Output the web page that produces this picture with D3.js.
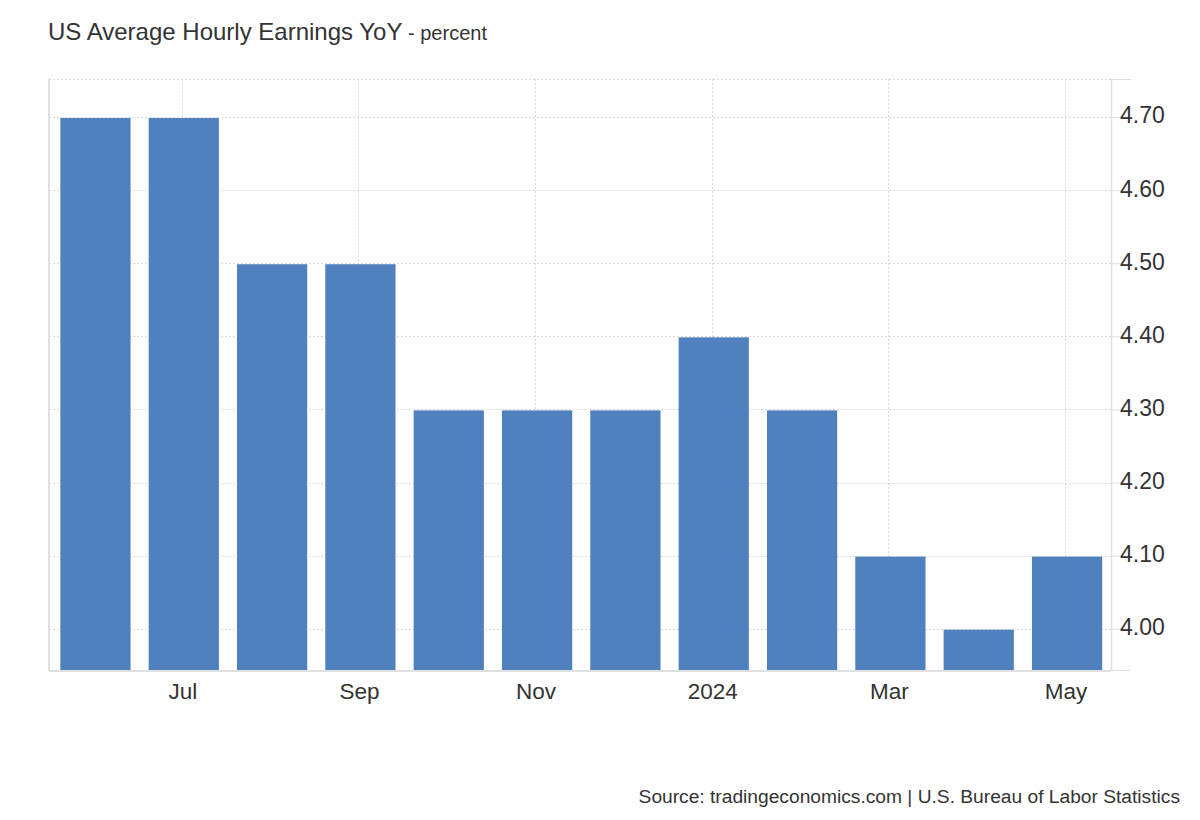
<!DOCTYPE html>
<html>
<head>
<meta charset="utf-8">
<script src="https://cdn.jsdelivr.net/npm/d3@7"></script>
<style>
  html, body { margin: 0; padding: 0; background: #fff; }
  svg { display: block; font-family: "Liberation Sans", Arial, sans-serif; }
</style>
</head>
<body>
<svg id="chart" width="1200" height="820"></svg>
<script>
const months = ["Jun","Jul","Aug","Sep","Oct","Nov","Dec","2024","Feb","Mar","Apr","May"];
const values = [4.7, 4.7, 4.5, 4.5, 4.3, 4.3, 4.3, 4.4, 4.3, 4.1, 4.0, 4.1];
const xTickLabels = ["Jul","Sep","Nov","2024","Mar","May"];
const yTicks = [4.0, 4.1, 4.2, 4.3, 4.4, 4.5, 4.6, 4.7];
const yDomain = [3.9435, 4.752];

(function () {
const svg = d3.select("#chart");
const pL = 49, pR = 1111, pT = 79, pB = 670;

const x = d3.scaleBand().domain(months).range([51.5, 1111]).paddingInner(0.205).paddingOuter(0.1);
const y = d3.scaleLinear().domain(yDomain).range([pB, pT]);

const gridColor = "#d9d9d9";
const axisColor = "#e0e0e0";

// horizontal gridlines
svg.append("g").selectAll("line").data(yTicks).join("line")
  .attr("x1", pL).attr("x2", pR)
  .attr("y1", d => Math.round(y(d)) + 0.5).attr("y2", d => Math.round(y(d)) + 0.5)
  .attr("stroke", gridColor).attr("stroke-width", 1).attr("stroke-dasharray", "2,2");
// top border (dotted)
svg.append("line").attr("x1", pL).attr("x2", pR).attr("y1", pT + 0.5).attr("y2", pT + 0.5)
  .attr("stroke", gridColor).attr("stroke-dasharray", "2,2");

// vertical gridlines
svg.append("g").selectAll("line").data(xTickLabels).join("line")
  .attr("x1", d => Math.round(x(d) + x.bandwidth() / 2) - 1.5)
  .attr("x2", d => Math.round(x(d) + x.bandwidth() / 2) - 1.5)
  .attr("y1", pT).attr("y2", pB)
  .attr("stroke", gridColor).attr("stroke-width", 1).attr("stroke-dasharray", "2,2");

// bars
svg.append("g").selectAll("rect").data(values).join("rect")
  .attr("x", (d, i) => x(months[i]))
  .attr("width", x.bandwidth())
  .attr("y", d => y(d) + 1)
  .attr("height", d => pB - y(d) - 1)
  .attr("fill", "#4e81bd");

// left axis line
svg.append("line").attr("x1", pL).attr("x2", pL).attr("y1", pT).attr("y2", pB + 1)
  .attr("stroke", axisColor).attr("stroke-width", 2);
// bottom axis line
svg.append("line").attr("x1", pL).attr("x2", pR).attr("y1", pB + 1).attr("y2", pB + 1)
  .attr("stroke", axisColor).attr("stroke-width", 2);

// right axis
const yAxis = d3.axisRight(y).tickValues(yTicks).tickFormat(d3.format(".2f")).tickSize(9).tickPadding(0);
const gy = svg.append("g").attr("transform", `translate(${pR},0)`).call(yAxis);
gy.select(".domain").attr("stroke", axisColor).attr("stroke-width", 1.5).attr("d", `M0.5,${pT}V${pB}`);
gy.selectAll(".tick line").attr("stroke", axisColor);
gy.selectAll(".tick text").attr("fill", "#333").attr("font-size", 23).attr("dy", "0.26em")
  .attr("font-family", "Liberation Sans, Arial, sans-serif");
// top / bottom end ticks
svg.append("line").attr("x1", pR).attr("x2", 1131).attr("y1", pT + 0.5).attr("y2", pT + 0.5).attr("stroke", axisColor);
svg.append("line").attr("x1", pR).attr("x2", 1131).attr("y1", pB + 0.5).attr("y2", pB + 0.5).attr("stroke", axisColor);

// bottom axis labels
const xAxis = d3.axisBottom(x).tickValues(xTickLabels).tickSize(0).tickPadding(12);
const gx = svg.append("g").attr("transform", `translate(-1,${pB + 1})`).call(xAxis);
gx.select(".domain").remove();
gx.selectAll(".tick text").attr("fill", "#333").attr("font-size", 22.5)
  .attr("font-family", "Liberation Sans, Arial, sans-serif");

// title
const title = svg.append("text").attr("x", 48).attr("y", 40).attr("fill", "#333");
title.append("tspan").attr("font-size", 24).text("US Average Hourly Earnings YoY");
title.append("tspan").attr("font-size", 20).text(" - percent");

// source
svg.append("text").attr("x", 1180).attr("y", 803).attr("text-anchor", "end")
  .attr("fill", "#333").attr("font-size", 19.2)
  .text("Source: tradingeconomics.com | U.S. Bureau of Labor Statistics");
})();
</script>
</body>
</html>
